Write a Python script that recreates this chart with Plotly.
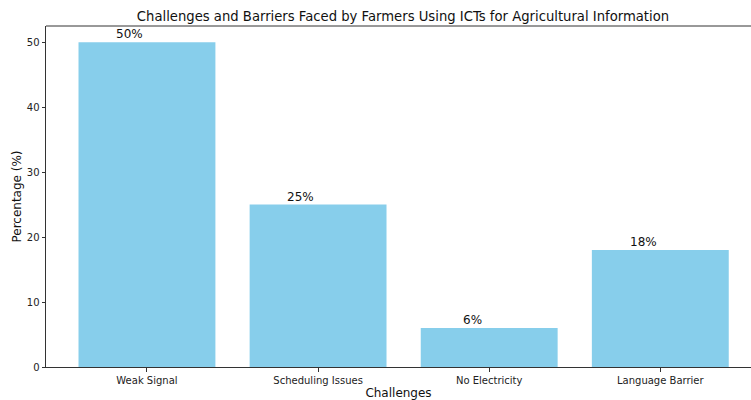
import plotly.graph_objects as go

categories = ["Weak Signal", "Scheduling Issues", "No Electricity", "Language Barrier"]
values = [50, 25, 6, 18]
labels = ["50%", "25%", "6%", "18%"]
y_ticks = [0, 10, 20, 30, 40, 50]

xs = list(range(len(categories)))
FONT = "DejaVu Sans"
DARK = "#333333"

fig = go.Figure()
fig.add_trace(go.Bar(x=xs, y=values, width=0.8, marker=dict(color="#87CEEB", line=dict(width=0)),
                     hoverinfo="skip"))

for x, v, t in zip(xs, values, labels):
    fig.add_annotation(x=x - 0.1, y=v, text=t, showarrow=False, yanchor="bottom", yshift=-1,
                       font=dict(family=FONT, size=12, color="#111111"))

fig.add_shape(type="line", xref="paper", yref="paper", x0=0, x1=1, y0=1, y1=1,
              line=dict(color=DARK, width=1))

fig.update_layout(
    width=751, height=400,
    margin=dict(l=46, r=0, t=26, b=33),
    paper_bgcolor="white", plot_bgcolor="white",
    showlegend=False,
    font=dict(family=FONT, color="#111111"),
    title=dict(text="Challenges and Barriers Faced by Farmers Using ICTs for Agricultural Information",
               x=403 / 751, xref="container", xanchor="center", y=1 - 16 / 400, yref="container",
               yanchor="middle", font=dict(family=FONT, size=13.2, color="#111111")),
    xaxis=dict(range=[-0.59, 3.53], tickmode="array", tickvals=xs, ticktext=categories,
               showline=True, linecolor=DARK, linewidth=1, ticks="outside", ticklen=3.5,
               tickcolor=DARK, showgrid=False, zeroline=False,
               tickfont=dict(family=FONT, size=10, color="#222222"),
               title=dict(text="Challenges", font=dict(family=FONT, size=12, color="#111111"),
                          standoff=6)),
    yaxis=dict(range=[0, 52.5], tickmode="array", tickvals=y_ticks,
               showline=True, linecolor=DARK, linewidth=1, ticks="outside", ticklen=3.5,
               tickcolor=DARK, showgrid=False, zeroline=False,
               tickfont=dict(family=FONT, size=10, color="#222222"),
               title=dict(text="Percentage (%)", font=dict(family=FONT, size=12, color="#111111"),
                          standoff=2)),
)

fig.write_html("out.html")
